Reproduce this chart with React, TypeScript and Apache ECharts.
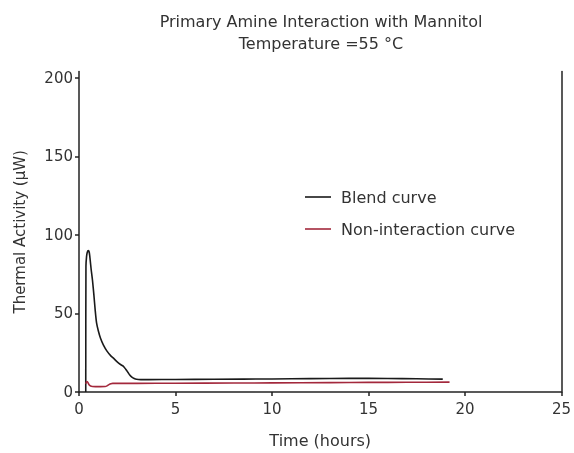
import React, { useEffect, useRef } from "react";
import * as echarts from "echarts";

const titleLines = ["Primary Amine Interaction with Mannitol", "Temperature =55 °C"];
const xTicks = [0, 5, 10, 15, 20, 25];
const yTicks = [0, 50, 100, 150, 200];

const blendTime = [0.35, 0.36, 0.39, 0.43, 0.48, 0.53, 0.58, 0.63, 0.7, 0.77, 0.84, 0.91, 1.0, 1.12, 1.26, 1.45, 1.65, 1.77, 1.95, 2.15, 2.29, 2.42, 2.53, 2.63, 2.74, 2.86, 2.98, 3.2, 3.6, 5, 7, 10, 12, 14, 16, 17.5, 18.85];
const blendValue = [0, 80, 86, 89, 90, 89, 84, 78, 71, 62, 52, 44, 39, 34, 30, 26, 23, 21.7, 19.5, 17.5, 16.5, 14.5, 12.6, 10.8, 9.5, 8.6, 8.1, 7.9, 7.9, 8.0, 8.1, 8.3, 8.5, 8.7, 8.6, 8.4, 8.2];

const nonTime = [0.35, 0.4, 0.45, 0.52, 0.6, 0.7, 0.85, 1.1, 1.35, 1.45, 1.55, 1.65, 1.75, 2.2, 3, 5, 8, 10, 13, 15, 17, 19.2];
const nonValue = [5.3, 6.7, 6.3, 4.6, 3.8, 3.5, 3.4, 3.4, 3.5, 3.9, 4.7, 5.3, 5.5, 5.5, 5.5, 5.6, 5.7, 5.8, 6.0, 6.1, 6.2, 6.3];

const seriesNames = ["Blend curve", "Non-interaction curve"];

export default function App() {
  const ref = useRef<HTMLDivElement>(null);
  useEffect(() => {
    if (!ref.current) return;
    const chart = echarts.init(ref.current, undefined, { renderer: "svg" });
    const font = "DejaVu Sans";
    const txt = "#333";
    chart.setOption({
      animation: false,
      textStyle: { fontFamily: font, color: txt },
      title: {
        text: titleLines.join("\n"),
        left: 316,
        textAlign: "center",
        top: 5,
        textStyle: { fontFamily: font, fontSize: 16, fontWeight: "normal", color: txt, lineHeight: 22 },
      },
      legend: {
        orient: "vertical",
        left: 300,
        top: 184,
        itemWidth: 26,
        itemHeight: 14,
        itemGap: 16,
        icon: "path://M0,0 L26,0 L26,1.6 L0,1.6 Z",
        textStyle: { fontFamily: font, fontSize: 16, color: txt, padding: [0, 0, 0, 5] },
        data: seriesNames,
      },
      grid: { left: 79, right: 11, top: 71.6, bottom: 55, containLabel: false },
      xAxis: {
        type: "value",
        min: 0,
        max: 25,
        interval: 5,
        name: "Time (hours)",
        nameLocation: "middle",
        nameGap: 40,
        nameTextStyle: { fontFamily: font, fontSize: 16, color: txt },
        axisLine: { show: true, lineStyle: { color: "#222", width: 1.5 } },
        axisTick: { show: true, length: 4, lineStyle: { color: "#222", width: 1.5 } },
        axisLabel: { fontFamily: font, fontSize: 15, color: txt, margin: 9, formatter: (v: number) => (xTicks.includes(v) ? String(v) : "") },
        splitLine: { show: false },
      },
      yAxis: [
        {
          type: "value",
          min: 0,
          max: 204,
          interval: 50,
          name: "Thermal Activity (μW)",
          nameLocation: "middle",
          nameGap: 52,
          nameTextStyle: { fontFamily: font, fontSize: 15, color: txt },
          axisLine: { show: true, lineStyle: { color: "#222", width: 1.5 } },
          axisTick: { show: true, length: 4, customValues: yTicks, lineStyle: { color: "#222", width: 1.5 } },
          axisLabel: { fontFamily: font, fontSize: 15, color: txt, margin: 6, customValues: yTicks, formatter: (v: number) => (yTicks.includes(v) ? String(v) : "") },
          splitLine: { show: false },
        },
        {
          type: "value",
          min: 0,
          max: 204,
          interval: 50,
          position: "right",
          axisLine: { show: true, lineStyle: { color: "#222", width: 1.5 } },
          axisTick: { show: false },
          axisLabel: { show: false },
          splitLine: { show: false },
        },
      ],
      series: [
        {
          name: seriesNames[0],
          type: "line",
          showSymbol: false,
          symbol: "none",
          smooth: 0.25,
          color: "#1a1a1a",
          lineStyle: { color: "#1a1a1a", width: 1.6 },
          data: blendTime.map((t, i) => [t, blendValue[i]]),
        },
        {
          name: seriesNames[1],
          type: "line",
          showSymbol: false,
          symbol: "none",
          smooth: 0.25,
          color: "#a3283c",
          lineStyle: { color: "#a3283c", width: 1.6 },
          data: nonTime.map((t, i) => [t, nonValue[i]]),
        },
      ],
    });
    return () => chart.dispose();
  }, []);
  return <div ref={ref} style={{ position: "fixed", left: 0, top: 0, width: 574, height: 453 }} />;
}
